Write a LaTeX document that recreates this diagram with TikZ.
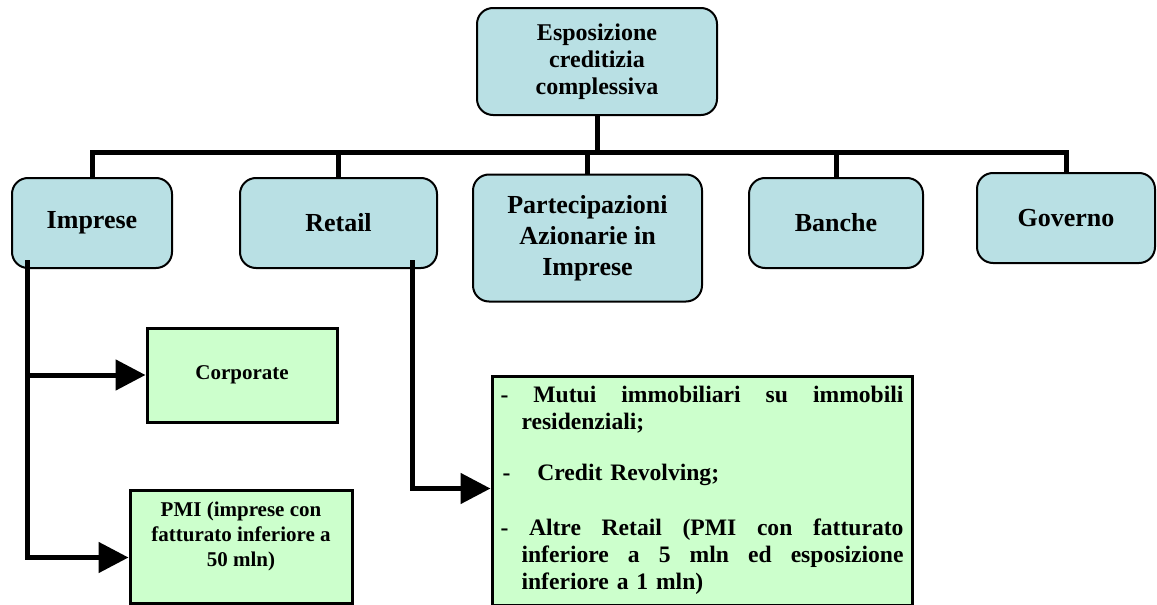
\documentclass[tikz,border=0pt]{standalone}
\usepackage{fontspec}
\setmainfont{Liberation Serif}
\usetikzlibrary{arrows.meta}
\usepackage{xcolor}
\definecolor{boxblue}{RGB}{185,224,228}
\definecolor{boxgreen}{RGB}{204,255,204}

\begin{document}
\begin{tikzpicture}[x=0.5pt,y=-0.5pt]

    \tikzset{topbox/.style = {shape=rectangle,rounded corners=8pt,draw,line width=1pt,fill=boxblue,align=center,font=\bfseries}}
    \tikzset{greenbox/.style = {shape=rectangle,draw,line width=1.5pt,fill=boxgreen,font=\bfseries}}
    \tikzset{bus/.style = {-,line width=2.5pt}}
    \tikzset{arr/.style = {-{Triangle[length=15pt,width=15pt]},line width=2.5pt}}
    \useasboundingbox (0,0) rectangle (1157,605);
    \node[topbox,minimum width=120pt,minimum height=53.5pt,font=\bfseries\fontsize{12}{13.5}\selectfont] (esposizione) at (597,61.5) {Esposizione\\creditizia\\complessiva};
    \node[topbox,minimum width=80pt,minimum height=45pt,font=\bfseries\fontsize{13}{15.5}\selectfont] (imprese) at (92,223) {Imprese};
    \node[topbox,minimum width=98.5pt,minimum height=45pt,font=\bfseries\fontsize{13}{15.5}\selectfont] (retail) at (338.5,223) {Retail};
    \node[topbox,minimum width=114.5pt,minimum height=63.5pt,font=\bfseries\fontsize{13}{15.5}\selectfont] (partecipazioni) at (587.5,238) {Partecipazioni\\Azionarie in\\Imprese};
    \node[topbox,minimum width=87pt,minimum height=45pt,font=\bfseries\fontsize{13}{15.5}\selectfont] (banche) at (836,223) {Banche};
    \node[topbox,minimum width=89pt,minimum height=45pt,font=\bfseries\fontsize{13}{15.5}\selectfont] (governo) at (1066,218) {Governo};
    \node[greenbox,minimum width=95pt,minimum height=47pt,font=\bfseries\fontsize{10.5}{12.5}\selectfont] (corporate) at (242,375) {Corporate};
    \node[greenbox,minimum width=111pt,minimum height=56.5pt,align=center,font=\bfseries\fontsize{10.5}{12.5}\selectfont] (pmi) at (241,546.5) {PMI (imprese con\\fatturato inferiore a\\50 mln)\\~};
    \node[greenbox,minimum width=210pt,minimum height=114.5pt,text width=201.5pt,align=left,font=\bfseries\fontsize{11.8}{13.6}\selectfont] (retaillist) at (702,490.5) {%
        \makebox[201.5pt][s]{-\hfill Mutui\hfill immobiliari\hfill su\hfill immobili}\\
        \hspace*{10.5pt}residenziali;\\[11.5pt]
        \hspace*{1pt}-\hspace{13.5pt}Credit Revolving;\\[14pt]
        \makebox[201.5pt][s]{-\hfill Altre\hfill Retail\hfill (PMI\hfill con\hfill fatturato}\\
        \hspace*{10.5pt}\makebox[191pt][s]{inferiore\hfill a\hfill 5\hfill mln\hfill ed\hfill esposizione}\\
        \hspace*{10.5pt}inferiore a 1 mln)};
    \coordinate (busline) at (0,152);
    \coordinate (impreseleg) at (27,260);
    \coordinate (retailleg) at (412,260);
    %edges
    \draw[bus] (esposizione.south) -- (esposizione.south |- busline);
    \draw[bus] (imprese.north) -- (imprese.north |- busline) -| (governo.north);
    \draw[bus] (retail.north) -- (retail.north |- busline);
    \draw[bus] (partecipazioni.north) -- (partecipazioni.north |- busline);
    \draw[bus] (banche.north) -- (banche.north |- busline);
    \draw[arr] (impreseleg) |- ([yshift=-5.5pt]pmi.west);
    \draw[arr] (impreseleg |- corporate.west) -- (corporate.west);
    \draw[arr] (retailleg) |- ([yshift=1pt]retaillist.west);
\end{tikzpicture}
\end{document}
